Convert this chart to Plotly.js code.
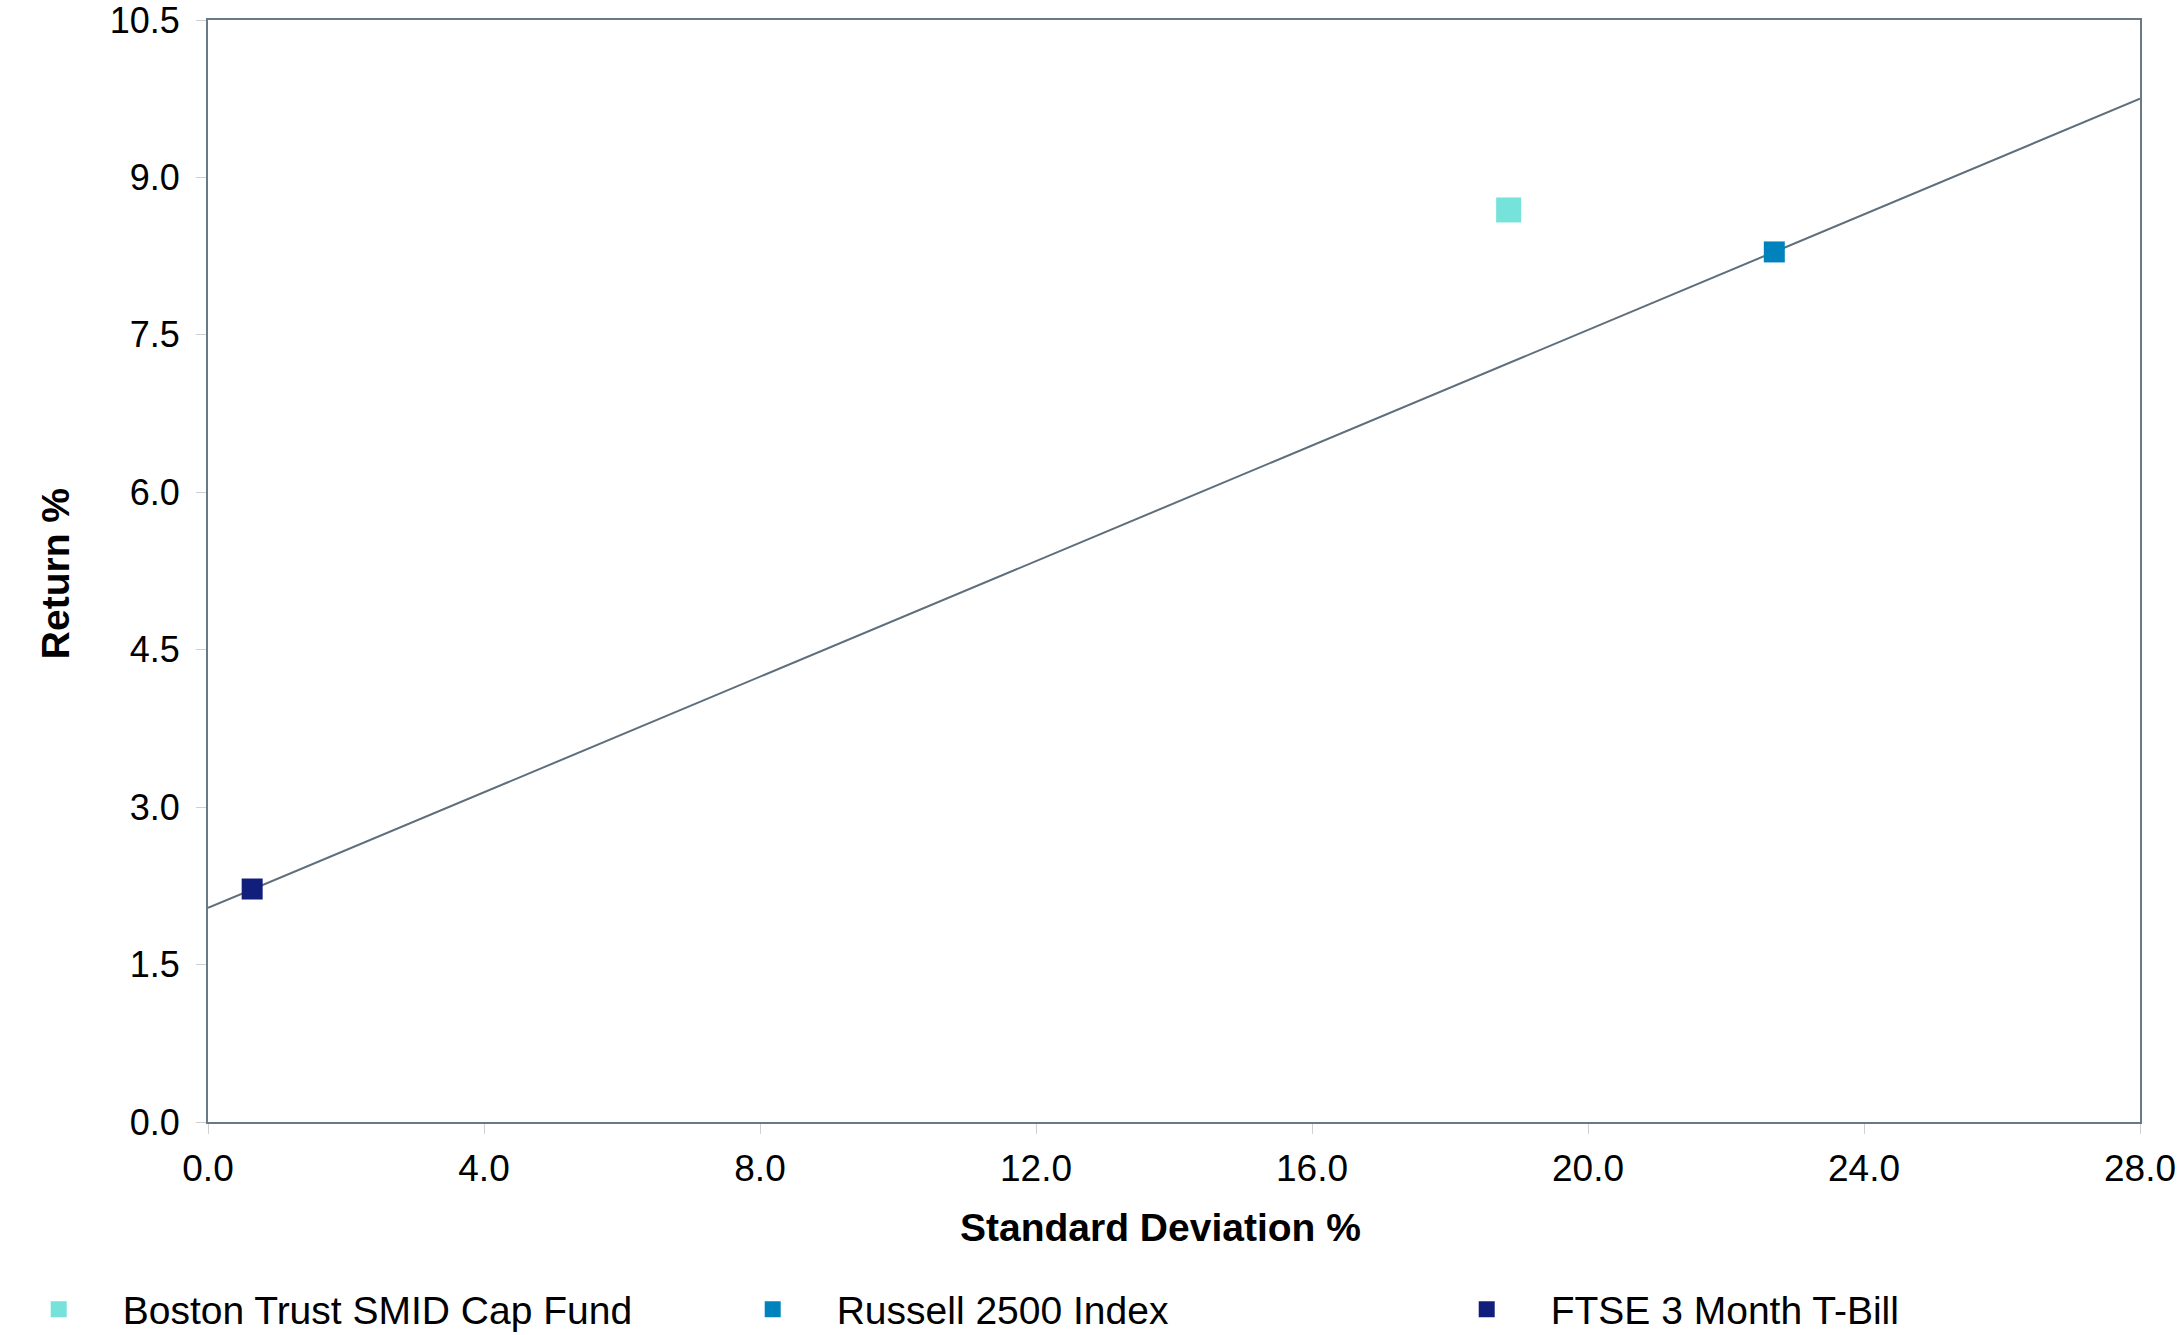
<!DOCTYPE html>
<html>
<head>
<meta charset="utf-8">
<script src="https://cdn.plot.ly/plotly-3.0.1.min.js"></script>
<style>html,body{margin:0;padding:0;background:#fff;}</style>
</head>
<body>
<div id="chart" style="width:2177px;height:1335px;"></div>
<script>
// Data
const seriesNames = ["Boston Trust SMID Cap Fund", "Russell 2500 Index", "FTSE 3 Month T-Bill"];
const stdDev = [18.85, 22.70, 0.64];
const returns = [8.69, 8.29, 2.22];
const seriesColors = ["#75e3d9", "#0083bd", "#121e7c"];
const markerSizes = [25, 21, 21];
const cmlX = [0, 28];
const cmlY = [2.04, 9.75];
const xTicks = [0, 4, 8, 12, 16, 20, 24, 28];
const yTicks = [0, 1.5, 3, 4.5, 6, 7.5, 9, 10.5];
const xTitle = "Standard Deviation %";
const yTitle = "Return %";

const FONT = "Liberation Sans, Arial, Helvetica, sans-serif";

const traces = [{
  x: cmlX, y: cmlY, mode: "lines", showlegend: false, hoverinfo: "skip",
  line: {color: "#5f6e7b", width: 2}
}];
for (let i = 0; i < seriesNames.length; i++) {
  traces.push({
    x: [stdDev[i]], y: [returns[i]], name: seriesNames[i], mode: "markers", type: "scatter",
    marker: {symbol: "square", size: markerSizes[i], color: seriesColors[i], line: {width: 0}}
  });
}

const layout = {
  width: 2177, height: 1335,
  margin: {l: 208, r: 37, t: 20, b: 213, autoexpand: false},
  paper_bgcolor: "#ffffff", plot_bgcolor: "#ffffff",
  font: {family: FONT, color: "#000000", size: 36},
  showlegend: true,
  xaxis: {
    range: [0, 28], tickvals: xTicks, ticktext: xTicks.map(v => v.toFixed(1)),
    showgrid: false, zeroline: false, showline: true, mirror: true,
    linecolor: "#6a7986", linewidth: 2,
    ticks: "outside", ticklen: 10, tickcolor: "#d0d0d0", tickwidth: 1,
    tickfont: {size: 37, family: FONT, color: "#000"},
    ticklabelstandoff: 3, ticklabeloverflow: "allow",
    automargin: false
  },
  yaxis: {
    range: [0, 10.5], tickvals: yTicks, ticktext: yTicks.map(v => v.toFixed(1)),
    showgrid: false, zeroline: false, showline: true, mirror: true,
    linecolor: "#6a7986", linewidth: 2,
    ticks: "outside", ticklen: 10, tickcolor: "#d0d0d0", tickwidth: 1,
    tickfont: {size: 36, family: FONT, color: "#000"},
    ticklabelstandoff: 9, ticklabeloverflow: "allow",
    automargin: false
  },
  annotations: [
    {text: "<b>" + xTitle + "</b>", xref: "paper", yref: "paper", x: 0.4928, y: -0.0953,
     xanchor: "center", yanchor: "middle", showarrow: false,
     font: {size: 39, family: FONT, color: "#000"}},
    {text: "<b>" + yTitle + "</b>", xref: "paper", yref: "paper", x: -0.0792, y: 0.498,
     xanchor: "center", yanchor: "middle", showarrow: false, textangle: -90,
     font: {size: 39, family: FONT, color: "#000"}}
  ],
  legend: {
    orientation: "h", xref: "paper", yref: "paper",
    x: -0.1104, xanchor: "left", y: -0.17, yanchor: "middle",
    entrywidth: 581, entrywidthmode: "pixels", itemwidth: 118,
    font: {size: 39, family: FONT, color: "#000"},
    bgcolor: "rgba(0,0,0,0)", borderwidth: 0
  }
};

Plotly.newPlot("chart", traces, layout, {displayModeBar: false, staticPlot: true});
</script>
</body>
</html>
